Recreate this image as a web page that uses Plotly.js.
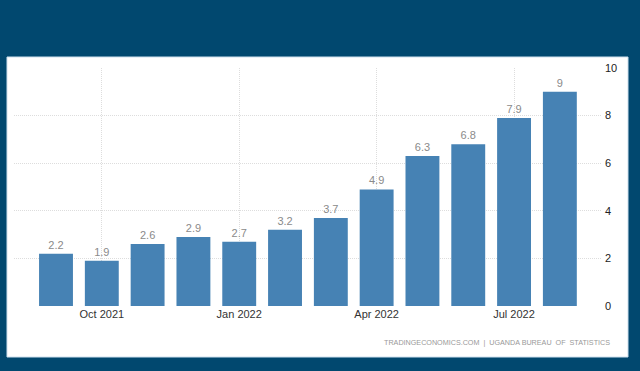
<!DOCTYPE html>
<html><head><meta charset="utf-8">
<script src="https://cdn.plot.ly/plotly-3.0.1.min.js"></script>
<style>html,body{margin:0;padding:0;background:#01486f;}#chart{width:640px;height:371px;}</style>
</head><body><div id="chart"></div>
<script>
var months = ["Sep 2021","Oct 2021","Nov 2021","Dec 2021","Jan 2022","Feb 2022","Mar 2022","Apr 2022","May 2022","Jun 2022","Jul 2022","Aug 2022"];
var values = [2.2, 1.9, 2.6, 2.9, 2.7, 3.2, 3.7, 4.9, 6.3, 6.8, 7.9, 9];
var tickMonths = ["Oct 2021","Jan 2022","Apr 2022","Jul 2022"];
var yTicks = [0, 2, 4, 6, 8, 10];
var sourceText = "TRADINGECONOMICS.COM  |  UGANDA BUREAU  OF  STATISTICS";

var trace = {
  type: "bar",
  x: months,
  y: values,
  marker: {color: "#4682b4"},
  text: values.map(String),
  textposition: "outside",
  textfont: {family: "Liberation Sans, Arial, sans-serif", size: 11, color: "#8a8a8a"},
  cliponaxis: false,
  hoverinfo: "none"
};

var layout = {
  width: 640, height: 371,
  paper_bgcolor: "#01486f",
  plot_bgcolor: "#ffffff",
  margin: {l: 14, r: 38, t: 68, b: 65},
  bargap: 0.26,
  showlegend: false,
  xaxis: {
    type: "category",
    range: [-0.917, 11.92],
    tickmode: "array",
    tickvals: tickMonths,
    ticktext: tickMonths,
    showgrid: true,
    gridcolor: "#dddddd",
    griddash: "1px,1px",
    gridwidth: 1,
    showline: false,
    zeroline: false,
    ticks: "",
    tickfont: {family: "Liberation Sans, Arial, sans-serif", size: 11, color: "#333333"}
  },
  yaxis: {
    side: "right",
    range: [0, 10],
    tickmode: "array",
    tickvals: yTicks,
    showgrid: true,
    gridcolor: "#dddddd",
    griddash: "1px,1px",
    gridwidth: 1,
    zeroline: false,
    showline: false,
    ticks: "",
    ticklabelstandoff: 2,
    tickfont: {family: "Liberation Sans, Arial, sans-serif", size: 11, color: "#222222"}
  },
  shapes: [{
    type: "rect", xref: "paper", yref: "paper",
    x0: -0.0119, x1: 1.0442, y0: -0.2143, y1: 1.0462,
    fillcolor: "#ffffff", line: {color: "#cfe0ee", width: 1}, layer: "below"
  }],
  annotations: [{
    xref: "paper", yref: "paper", x: 1.017, y: -0.155,
    xanchor: "right", yanchor: "middle", showarrow: false,
    text: sourceText,
    font: {family: "Liberation Sans, Arial, sans-serif", size: 7.2, color: "#999999"}
  }]
};

Plotly.newPlot("chart", [trace], layout, {staticPlot: true, displayModeBar: false});
</script>
</body></html>
